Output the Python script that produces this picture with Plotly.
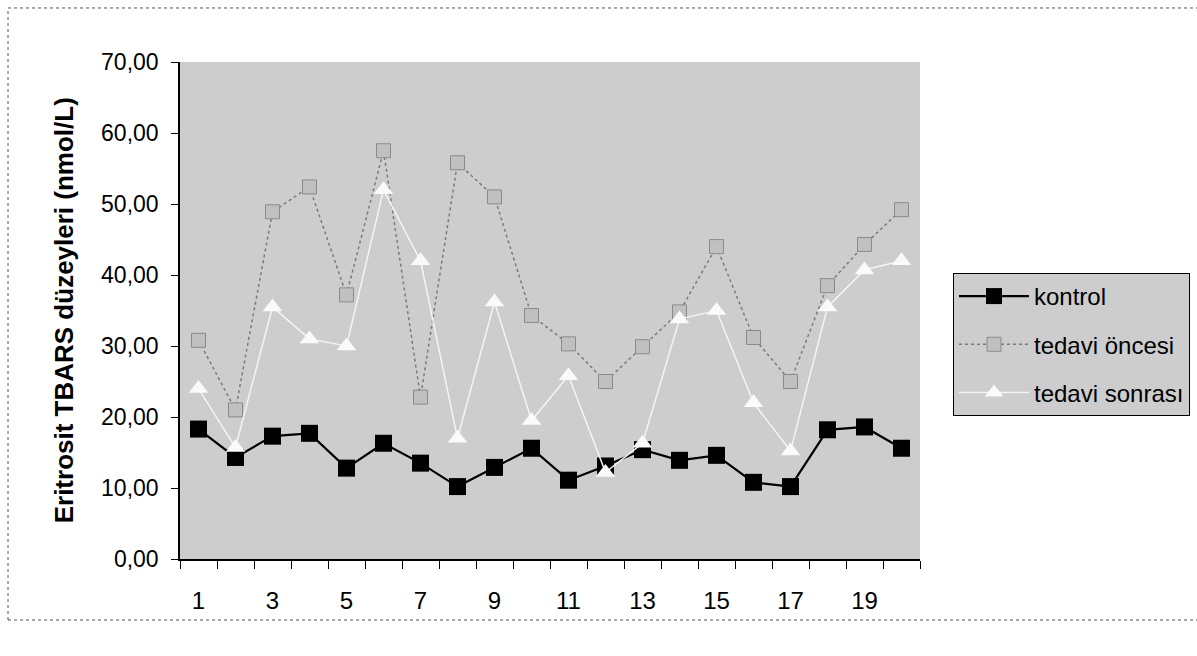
import plotly.graph_objects as go

categories = list(range(1, 21))
kontrol = [18.3, 14.3, 17.3, 17.7, 12.8, 16.3, 13.5, 10.2, 12.9, 15.6,
           11.1, 13.1, 15.4, 13.9, 14.6, 10.8, 10.2, 18.2, 18.6, 15.6]
tedavi_oncesi = [30.8, 21.0, 48.9, 52.4, 37.2, 57.5, 22.8, 55.8, 51.0, 34.3,
                 30.3, 25.0, 29.9, 34.8, 44.0, 31.2, 25.0, 38.5, 44.3, 49.2]
tedavi_sonrasi = [24.0, 15.7, 35.5, 31.0, 30.0, 52.0, 42.0, 17.0, 36.2, 19.5,
                  25.8, 12.2, 16.3, 33.8, 35.0, 22.0, 15.2, 35.5, 40.7, 42.0]
x_labels = [str(v) for v in range(1, 21, 2)]
y_ticks = [0, 10, 20, 30, 40, 50, 60, 70]
series_names = ["kontrol", "tedavi öncesi", "tedavi sonrası"]
y_title = "Eritrosit TBARS düzeyleri (nmol/L)"

FONT = "Arial, Liberation Sans, sans-serif"

fig = go.Figure()
fig.add_trace(go.Scatter(
    x=categories, y=kontrol, name=series_names[0], mode="lines+markers",
    line=dict(color="black", width=2.2),
    marker=dict(symbol="square", size=17, color="black", line=dict(color="black", width=0)),
    legendgroup="a"))
fig.add_trace(go.Scatter(
    x=categories, y=tedavi_oncesi, name=series_names[1], mode="lines+markers",
    line=dict(color="#7a7a7a", width=1.5, dash="dot"),
    marker=dict(symbol="square", size=14, color="#c0c0c0", line=dict(color="#8a8a8a", width=1)),
    legendgroup="b"))
fig.add_trace(go.Scatter(
    x=categories, y=tedavi_sonrasi, name=series_names[2], mode="lines+markers",
    line=dict(color="#f4f4f4", width=1.5),
    marker=dict(symbol="triangle-up", size=17, color="#fafafa", line=dict(width=0)),
    legendgroup="c"))

fig.update_layout(
    width=1197, height=656,
    margin=dict(l=180, r=277, t=62, b=97, autoexpand=False),
    paper_bgcolor="white",
    plot_bgcolor="#cdcdcd",
    separators=",.",
    font=dict(family=FONT, size=23, color="black"),
    showlegend=True,
    legend=dict(
        x=1.0446, y=0.5755, xanchor="left", yanchor="top",
        bgcolor="#cdcdcd", bordercolor="black", borderwidth=1,
        font=dict(family=FONT, size=24, color="black"),
        tracegroupgap=14, itemwidth=70,
    ),
    xaxis=dict(
        range=[0.5, 20.5], tickmode="array",
        tickvals=list(range(1, 21, 2)), ticktext=x_labels,
        ticks="outside", ticklen=19, tickcolor="rgba(0,0,0,0)",
        showgrid=False, zeroline=False,
        showline=True, linecolor="black", linewidth=1.5,
        minor=dict(ticks="outside", tick0=0.5, dtick=1, ticklen=8,
                   tickcolor="black", tickwidth=1, showgrid=False),
        tickfont=dict(family=FONT, size=24),
    ),
    yaxis=dict(
        range=[0, 70], tickmode="array", tickvals=y_ticks,
        tickformat=".2f",
        ticks="outside", ticklen=7, tickcolor="black", tickwidth=1,
        ticklabelstandoff=8,
        showgrid=False, zeroline=False,
        showline=True, linecolor="black", linewidth=1.5,
        tickfont=dict(family=FONT, size=23),
    ),
    annotations=[dict(
        text="<b>" + y_title + "</b>", xref="paper", yref="paper",
        x=-0.157, y=0.5, xanchor="center", yanchor="middle",
        textangle=-90, showarrow=False,
        font=dict(family=FONT, size=26, color="black"))],
    shapes=[dict(
        type="rect", xref="paper", yref="paper",
        x0=-0.2324, x1=1.375, y0=-0.1227, y1=1.1087,
        line=dict(color="#555555", width=1, dash="dot"), layer="below")],
)

fig.write_html("out.html")
